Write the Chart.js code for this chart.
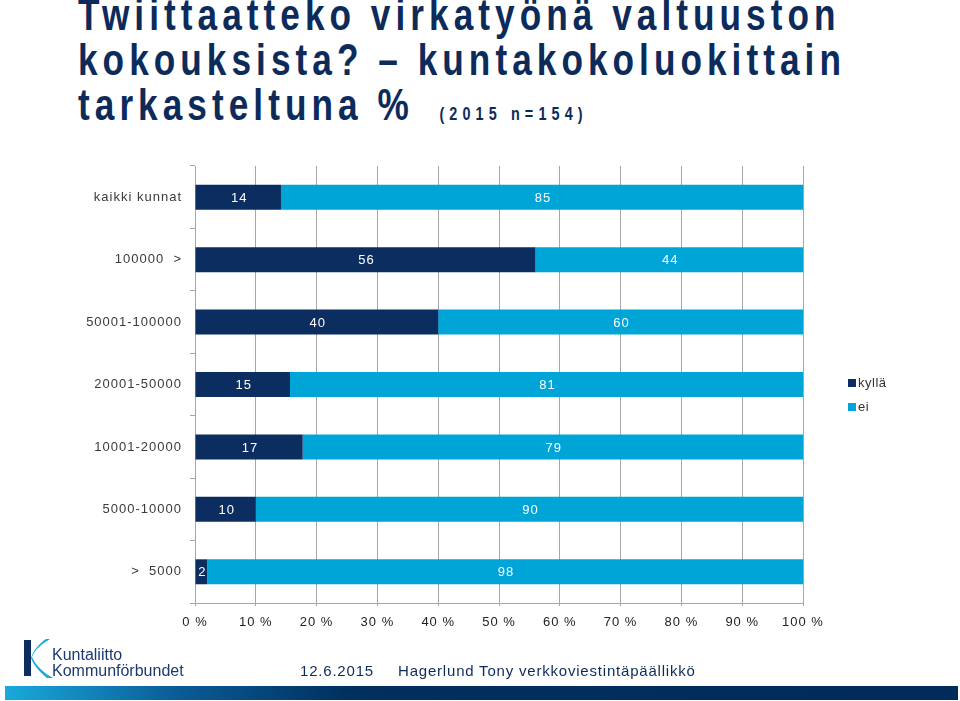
<!DOCTYPE html>
<html>
<head>
<meta charset="utf-8">
<script src="https://cdn.jsdelivr.net/npm/chart.js@4"></script>
<style>
  body { margin: 0; width: 960px; height: 701px; background: #fff; position: relative; overflow: hidden; font-family: "Liberation Sans", Arial, sans-serif; }
  #title { position: absolute; left: 78px; top: -8px; color: #0d2b5a; font-family: "Liberation Sans", Arial, sans-serif; font-weight: bold; font-size: 44px; line-height: 45px; letter-spacing: 6.3px; white-space: nowrap; transform: scaleX(0.8); transform-origin: 0 0; }
  #title small { font-size: 18px; letter-spacing: 6.4px; margin-left: 32px; }
  #wrap { position: absolute; left: 0; top: 150px; width: 960px; height: 490px; }
  #legend { position: absolute; left: 848px; top: 376px; font-size: 13px; color: #333; letter-spacing: 0.5px; }
  #legend div { height: 24px; line-height: 14px; }
  #legend span { display: inline-block; width: 8px; height: 8px; margin-right: 2px; }
  #logo { position: absolute; left: 20px; top: 636px; }
  .foot { position: absolute; top: 662px; font-size: 15px; color: #0d2b5a; letter-spacing: 0.8px; }
  #band { position: absolute; left: 5px; top: 686px; width: 953px; height: 14px; background: linear-gradient(to right, #1aa9dd 0%, #0a5c96 18%, #00305f 36%, #002b5a 100%); }
</style>
</head>
<body>
<div id="title">Twiittaatteko virkatyönä valtuuston<br>kokouksista? – kuntakokoluokittain<br>tarkasteltuna %<small>(2015 n=154)</small></div>
<div id="wrap"><canvas id="myChart"></canvas></div>
<div id="legend"></div>
<svg id="logo" width="170" height="44" viewBox="0 0 170 44">
  <rect x="4" y="4" width="7" height="36" fill="#0b2d5f"/>
  <path d="M30 3 C22 8 15 13 12 21 C16 30 24 37 33 42 L27 42 C20 36 14 30 11 22 C14 13 20 7 26 3 Z" fill="#1aa9dd"/>
  <text x="32" y="24" font-family="Liberation Sans, sans-serif" font-size="16" fill="#1b3b6f">Kuntaliitto</text>
  <text x="32" y="40" font-family="Liberation Sans, sans-serif" font-size="16" fill="#1b3b6f">Kommunförbundet</text>
</svg>
<div class="foot" style="left:300px">12.6.2015</div>
<div class="foot" style="left:398px">Hagerlund Tony verkkoviestintäpäällikkö</div>
<div id="band"></div>
<script>
const categories = ['kaikki kunnat', '100000  >', '50001-100000', '20001-50000', '10001-20000', '5000-10000', '>  5000'];
const kylla = [14, 56, 40, 15, 17, 10, 2];
const ei = [85, 44, 60, 81, 79, 90, 98];
const seriesNames = ['kyllä', 'ei'];
const seriesColors = ['#0b2d5f', '#00a5d8'];
const xTicks = [0, 10, 20, 30, 40, 50, 60, 70, 80, 90, 100];

// the bars are shown as shares of the row total (100 % stacked)
const totals = kylla.map((v, i) => v + ei[i]);
const kyllaShare = kylla.map((v, i) => v / totals[i] * 100);
const eiShare = ei.map((v, i) => v / totals[i] * 100);
const rawValues = [kylla, ei];

Chart.defaults.font.family = '"Liberation Sans", Arial, sans-serif';
Chart.defaults.font.size = 13;

// canvas resize wipes the context state, so set the spacing again before layout and draw
const spacing = {
  id: 'spacing',
  beforeUpdate(chart) { chart.ctx.letterSpacing = '1px'; },
  beforeLayout(chart) { chart.ctx.letterSpacing = '1px'; },
  beforeDraw(chart) { chart.ctx.letterSpacing = '1px'; }
};

const barLabels = {
  id: 'barLabels',
  afterDatasetsDraw(chart) {
    const ctx = chart.ctx;
    ctx.save();
    ctx.fillStyle = '#fff';
    ctx.font = '13px "Liberation Sans", Arial, sans-serif';
    ctx.textAlign = 'center';
    ctx.textBaseline = 'middle';
    chart.data.datasets.forEach((ds, d) => {
      chart.getDatasetMeta(d).data.forEach((bar, i) => {
        ctx.fillText(String(rawValues[d][i]), (bar.x + bar.base) / 2 + 1, bar.y + 1);
      });
    });
    ctx.restore();
  }
};

const ctx = document.getElementById('myChart').getContext('2d');
new Chart(ctx, {
  type: 'bar',
  data: {
    labels: categories,
    datasets: [
      { label: seriesNames[0], data: kyllaShare, backgroundColor: seriesColors[0] },
      { label: seriesNames[1], data: eiShare, backgroundColor: seriesColors[1] }
    ]
  },
  options: {
    indexAxis: 'y',
    responsive: true,
    maintainAspectRatio: false,
    animation: false,
    layout: { padding: { top: 16, right: 157, left: 0, bottom: 0 } },
    datasets: { bar: { categoryPercentage: 1, barPercentage: 0.4 } },
    plugins: { legend: { display: false }, tooltip: { enabled: false } },
    scales: {
      x: {
        stacked: true, min: 0, max: 100,
        afterBuildTicks(scale) { scale.ticks = xTicks.map(v => ({ value: v })); },
        afterFit(scale) { scale.height = 37; },
        ticks: { callback: v => v + ' %', color: '#222', padding: 9, maxRotation: 0 },
        grid: { color: '#a6a6a6', tickLength: 3 },
        border: { color: '#a6a6a6' }
      },
      y: {
        stacked: true,
        afterFit(scale) { scale.width = 195; },
        ticks: { color: '#3a3a3a', padding: 8 },
        grid: { drawOnChartArea: false, color: '#a6a6a6', tickLength: 5 },
        border: { color: '#a6a6a6' }
      }
    }
  },
  plugins: [spacing, barLabels]
});

document.getElementById('legend').innerHTML = seriesNames.map((n, i) =>
  '<div><span style="background:' + seriesColors[i] + '"></span>' + n + '</div>').join('');
</script>
</body>
</html>
